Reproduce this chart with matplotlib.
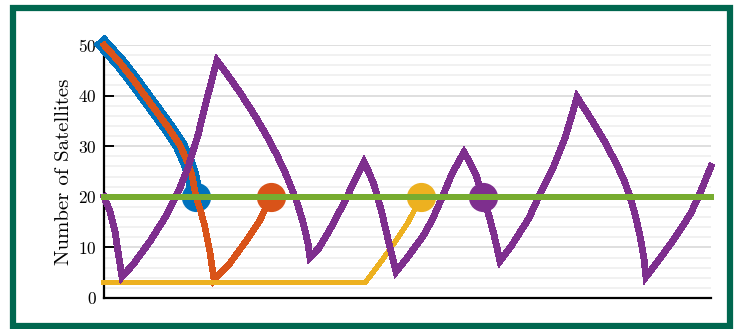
import matplotlib
matplotlib.use("Agg")
import matplotlib.pyplot as plt
from matplotlib.patches import Rectangle
from matplotlib.ticker import MultipleLocator, NullLocator

plt.rcParams["axes.formatter.use_mathtext"] = True

# Satellite counts over time for four constellations
t_blue = [0, 8, 14.5, 23, 31.5, 38, 42, 44, 46]
n_blue = [50, 46.5, 43.2, 38.6, 34.0, 30.2, 26.6, 24.2, 20]

t_orange = [0, 8, 14.5, 23, 31.5, 38, 42, 44, 46, 48.5, 50.5, 53, 55, 63, 71.5, 78, 83.5]
n_orange = [50, 46.5, 43.2, 38.6, 34.0, 30.2, 26.6, 24.2, 20, 17.0, 14.0, 9.0, 3.5, 6.9, 11.5, 15.4, 20]

t_yellow = [0, 130.5, 138, 145, 152, 158.5]
n_yellow = [3, 3, 6.9, 10.8, 14.9, 20]

t_purple = [0, 3, 5.5, 7, 9,
            14.5, 23, 31.5, 38, 42, 47, 51, 54.5, 56.5,
            62, 68.5, 75.5, 82, 86.5, 91, 96, 99.5, 102, 103,
            107.5, 112.5, 119.5, 126, 130,
            132.5, 135, 138.5, 142.5, 146,
            151.5, 160, 164.5, 169, 174, 180,
            183, 186, 189.5, 192.5, 195, 198,
            204, 212.5, 218, 224.5, 230.5, 234.5, 236.5,
            243, 249.5, 256.5, 260.5, 263, 265.5, 268, 270, 271,
            277, 285.5, 293.5, 298.5, 303.5]
n_purple = [20, 17.1, 13.2, 9.2, 4.2,
            6.6, 11.2, 16.5, 21.8, 25.8, 32.2, 38.6, 44.0, 46.9,
            44.0, 40.3, 36.0, 31.6, 28.2, 24.4, 19.5, 15.0, 10.8, 8.0,
            9.9, 13.2, 18.4, 23.7, 26.8,
            24.8, 22.4, 17.5, 10.8, 5.2,
            7.9, 12.5, 15.8, 19.8, 24.6, 28.8,
            26.7, 24.3, 20.0, 16.2, 12.5, 7.3,
            10.5, 15.8, 20.6, 25.7, 31.6, 36.9, 39.7,
            35.7, 31.5, 26.3, 22.8, 20.0, 16.6, 12.3, 7.8, 4.2,
            7.3, 11.9, 16.8, 21.2, 26.0]

t_target = [0, 303.5]
n_target = [20, 20]

y_ticks = [0, 10, 20, 30, 40, 50]

c_blue = "#0072BD"
c_orange = "#D95319"
c_yellow = "#EDB120"
c_purple = "#7E2F8E"
c_green = "#77AC30"

fig = plt.figure(figsize=(7.38, 3.29), dpi=100)
ax = fig.add_axes([104 / 738, 1 - 298 / 329, 607 / 738, 253 / 329])

ax.set_xlim(t_target[0], t_target[-1])
ax.set_ylim(0, 50)

ax.yaxis.set_minor_locator(MultipleLocator(2))
ax.set_yticks(y_ticks)
ax.xaxis.set_major_locator(NullLocator())
ax.xaxis.set_minor_locator(NullLocator())

ax.grid(True, which="minor", axis="y", color="#EEEEEE", linewidth=1.1, zorder=0)
ax.grid(True, which="major", axis="y", color="#D6D6D6", linewidth=1.1, zorder=0)
ax.set_axisbelow(True)

ax.tick_params(axis="y", which="major", direction="in", length=7.5, width=1.4,
               pad=5, labelsize=12.5, colors="black")
ax.tick_params(axis="y", which="minor", length=0)
for lab in ax.get_yticklabels():
    lab.set_family("cmr10")

for side in ("top", "right"):
    ax.spines[side].set_visible(False)
for side in ("left", "bottom"):
    ax.spines[side].set_linewidth(1.6)
    ax.spines[side].set_color("black")

ax.set_ylabel("Number of Satellites", family="cmr10", fontsize=15, labelpad=4)

line_kw = dict(antialiased=False, clip_on=False, solid_joinstyle="miter")
dot_kw = dict(marker="o", markersize=20, linestyle="none", clip_on=False)

ax.plot(t_blue, n_blue, color=c_blue, linewidth=10.0, zorder=3, **line_kw)
ax.plot(t_blue[-1], n_blue[-1], color=c_blue, zorder=3, **dot_kw)

ax.plot(t_orange, n_orange, color=c_orange, linewidth=4.0, zorder=4, **line_kw)
ax.plot(t_orange[-1], n_orange[-1], color=c_orange, zorder=4, **dot_kw)

ax.plot(t_yellow, n_yellow, color=c_yellow, linewidth=3.0, zorder=5, **line_kw)
ax.plot(t_yellow[-1], n_yellow[-1], color=c_yellow, zorder=5, **dot_kw)

ax.plot(t_purple, n_purple, color=c_purple, linewidth=4.2, zorder=6, **line_kw)
ax.plot(189.5, 20, color=c_purple, zorder=6, **dot_kw)

ax.plot(t_target, n_target, color=c_green, linewidth=3.0, zorder=7, **line_kw)

# Frame around the whole figure
frame = Rectangle((13 / 738, 3 / 329), 717 / 738, 318 / 329,
                  transform=fig.transFigure, fill=False,
                  edgecolor="#00674F", linewidth=4.5, joinstyle="miter")
fig.patches.append(frame)

fig.savefig("out.png", dpi=100)
